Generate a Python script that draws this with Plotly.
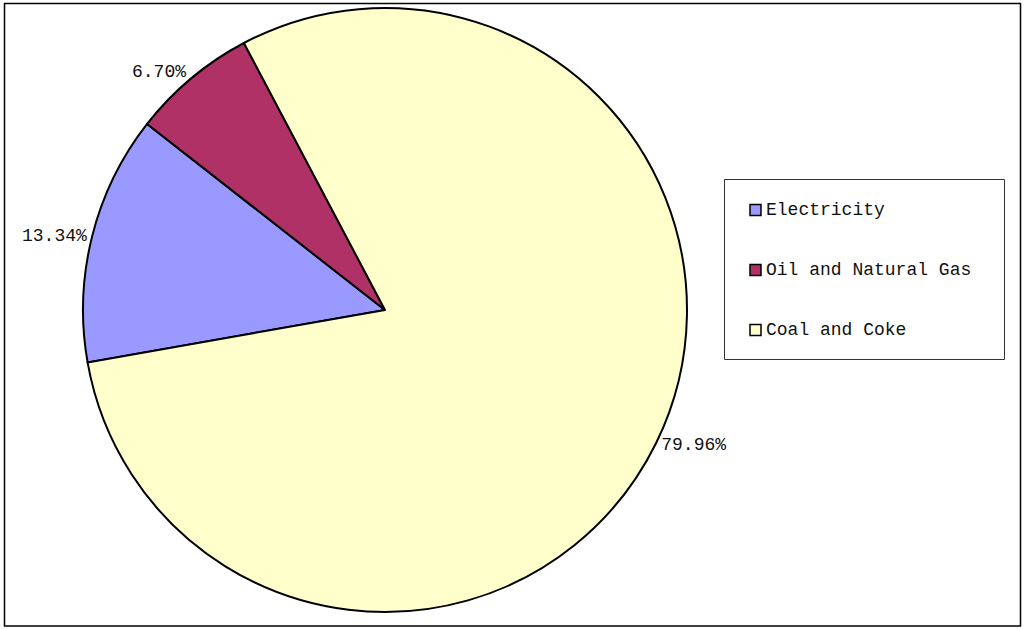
import plotly.graph_objects as go

labels = ["Electricity", "Oil and Natural Gas", "Coal and Coke"]
shares = [13.34, 6.70, 79.96]
colors = ["#9999FF", "#AF3165", "#FFFFCC"]

W, H = 1024, 629
FONT = "Liberation Mono"

fig = go.Figure()
fig.add_trace(go.Pie(
    labels=labels,
    values=shares,
    sort=False,
    direction="clockwise",
    rotation=260,
    marker=dict(colors=colors, line=dict(color="black", width=2)),
    texttemplate="%{value:.2f}%",
    textposition="outside",
    textfont=dict(family=FONT, size=18, color="#111111"),
    domain=dict(x=[83 / W, 687 / W], y=[(H - 612) / H, (H - 8) / H]),
    showlegend=False,
    hoverinfo="label+percent",
))

# legend box drawn by hand so the item spacing matches
shapes = [
    dict(type="rect", xref="paper", yref="paper",
         x0=4.5 / W, x1=1020.5 / W, y0=(H - 626) / H, y1=(H - 3.5) / H,
         line=dict(color="black", width=1.5), fillcolor="rgba(0,0,0,0)"),
    dict(type="rect", xref="paper", yref="paper",
         x0=724.5 / W, x1=1004.5 / W, y0=(H - 359.5) / H, y1=(H - 179.5) / H,
         line=dict(color="#333333", width=1), fillcolor="white"),
]
annotations = []
for i, (lab, col) in enumerate(zip(labels, colors)):
    yc = 210 + 60 * i
    shapes.append(dict(type="rect", xref="paper", yref="paper",
                       x0=750 / W, x1=761 / W, y0=(H - yc - 5.5) / H, y1=(H - yc + 5.5) / H,
                       line=dict(color="black", width=1.5), fillcolor=col))
    annotations.append(dict(xref="paper", yref="paper", x=764 / W, y=(H - yc) / H,
                            xanchor="left", yanchor="middle", showarrow=False,
                            text=lab, font=dict(family=FONT, size=18, color="#111111")))

fig.update_layout(
    width=W, height=H,
    margin=dict(l=0, r=0, t=0, b=0),
    paper_bgcolor="white",
    plot_bgcolor="white",
    shapes=shapes,
    annotations=annotations,
)

# drop the default page margin so the figure sits at the window's corner
fig.write_html("out.html", config={"displayModeBar": False},
               post_script="document.body.style.margin='0';")
